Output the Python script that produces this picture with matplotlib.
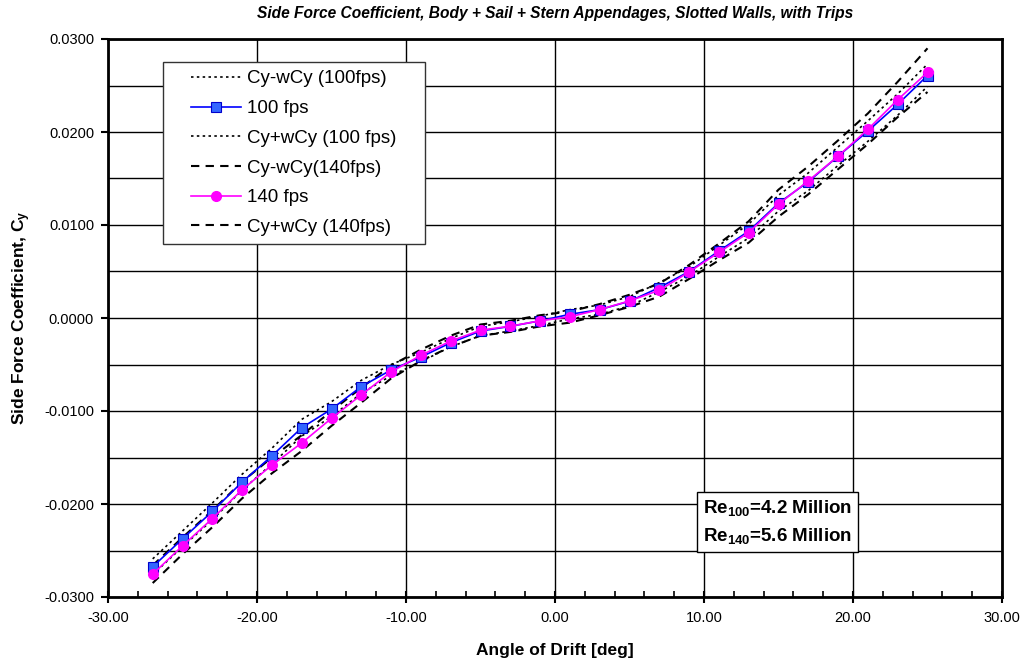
import matplotlib
matplotlib.use("Agg")
import matplotlib.pyplot as plt
from matplotlib.ticker import MultipleLocator, FormatStrFormatter
from matplotlib.path import Path

plt.rcParams['font.family'] = ['Liberation Sans', 'DejaVu Sans']
plt.rcParams['axes.unicode_minus'] = False
plt.rcParams['mathtext.fontset'] = 'custom'
plt.rcParams['mathtext.rm'] = 'Liberation Sans'
plt.rcParams['mathtext.bf'] = 'Liberation Sans:bold'
plt.rcParams['mathtext.it'] = 'Liberation Sans:italic'

drift = [-27, -25, -23, -21, -19, -17, -15, -13, -11, -9, -7, -5, -3, -1,
         1, 3, 5, 7, 9, 11, 13, 15, 17, 19, 21, 23, 25]

cy100 = [-0.02675, -0.02375, -0.0208, -0.01764, -0.01483, -0.0118, -0.0098, -0.00737,
         -0.00559, -0.0042, -0.00266, -0.0014, -0.0009, -0.0003, 0.0004, 0.0009,
         0.0018, 0.00327, 0.0050, 0.0072, 0.00934, 0.01234, 0.01465, 0.0174,
         0.0201, 0.02297, 0.02607]
cy100_lo = [-0.0276, -0.0246, -0.0217, -0.0185, -0.0157, -0.0127, -0.0106, -0.0081,
            -0.0062, -0.0047, -0.0031, -0.0019, -0.0014, -0.0008, -0.0001, 0.0004,
            0.0013, 0.0028, 0.0045, 0.0066, 0.0086, 0.0115, 0.0137, 0.0164,
            0.0190, 0.0218, 0.0249]
cy100_hi = [-0.0259, -0.0229, -0.0199, -0.0168, -0.0140, -0.0109, -0.0090, -0.0067,
            -0.0050, -0.0037, -0.0022, -0.0009, -0.0004, 0.0002, 0.0009, 0.0014,
            0.0023, 0.0038, 0.0055, 0.0078, 0.0101, 0.0132, 0.0156, 0.0184,
            0.0212, 0.0241, 0.0273]

cy140 = [-0.02754, -0.0245, -0.02157, -0.01847, -0.01582, -0.01344, -0.01079, -0.00826,
         -0.0058, -0.00401, -0.00248, -0.00131, -0.00088, -0.0003, 0.00013, 0.00091,
         0.00184, 0.00298, 0.00495, 0.00705, 0.00919, 0.01223, 0.01475, 0.0174,
         0.02029, 0.02347, 0.02642]
cy140_lo = [-0.0285, -0.0254, -0.0225, -0.0194, -0.0167, -0.0143, -0.0116, -0.0091,
            -0.0065, -0.0046, -0.0031, -0.0019, -0.0015, -0.0009, -0.0005, 0.0003,
            0.0012, 0.0023, 0.0042, 0.0062, 0.0081, 0.0109, 0.0133, 0.0160,
            0.0187, 0.0216, 0.0243]
cy140_hi = [-0.0266, -0.0236, -0.0207, -0.0176, -0.0150, -0.0126, -0.0100, -0.0075,
            -0.0051, -0.0034, -0.0019, -0.0007, -0.0003, 0.0003, 0.0007, 0.0015,
            0.0025, 0.0037, 0.0057, 0.0080, 0.0104, 0.0138, 0.0163, 0.0191,
            0.0220, 0.0254, 0.0290]

fig = plt.figure(figsize=(10.24, 6.62), dpi=100)
ax = fig.add_axes([108/1024, 1 - 597/662, 894/1024, 558/662])

ax.plot(drift, cy100_lo, color='black', linestyle=(0, (1.5, 2)), linewidth=1.2,
        label='Cy-wCy (100fps)', zorder=3)
ax.plot(drift, cy100, color='#0000FF', linewidth=1.2, marker='s', markersize=6.5,
        markerfacecolor='#3366FF', markeredgecolor='#0000CC', markeredgewidth=0.8,
        label='100 fps', zorder=4)
ax.plot(drift, cy100_hi, color='black', linestyle=(0, (1.5, 2)), linewidth=1.2,
        label='Cy+wCy (100 fps)', zorder=3)
ax.plot(drift, cy140_lo, color='black', linestyle=(0, (4, 3)), linewidth=1.5,
        label='Cy-wCy(140fps)', zorder=3)
ax.plot(drift, cy140, color='#FF00FF', linewidth=1.2, marker='o', markersize=7,
        markerfacecolor='#FF00FF', markeredgecolor='#FF00FF',
        label='140 fps', zorder=5)
ax.plot(drift, cy140_hi, color='black', linestyle=(0, (4, 3)), linewidth=1.5,
        label='Cy+wCy (140fps)', zorder=3)

ax.set_xlim(-30, 30)
ax.set_ylim(-0.03, 0.03)
ax.xaxis.set_major_locator(MultipleLocator(10))
ax.xaxis.set_minor_locator(MultipleLocator(2))
ax.yaxis.set_major_locator(MultipleLocator(0.01))
ax.yaxis.set_minor_locator(MultipleLocator(0.005))
ax.xaxis.set_major_formatter(FormatStrFormatter('%.2f'))
ax.yaxis.set_major_formatter(FormatStrFormatter('%.4f'))
ax.grid(True, which='major', color='black', linewidth=1.0)
ax.grid(True, which='minor', axis='y', color='black', linewidth=1.0)
ax.tick_params(axis='x', which='major', direction='inout', length=8, width=1.5, labelsize=10.5, pad=6)
ax.tick_params(axis='x', which='minor', direction='in', length=4, width=1.2)
ax.tick_params(axis='y', which='major', direction='out', length=5, width=1.5, labelsize=10.5, pad=5)
ax.tick_params(axis='y', which='minor', length=0)
for s in ax.spines.values():
    s.set_linewidth(2.0)
    s.set_color('black')

ax.set_xlabel('Angle of Drift [deg]', fontsize=12.5, fontweight='bold', labelpad=13)
ax.set_ylabel(r'Side Force Coefficient, C$_\mathbf{y}$', fontsize=12.5, fontweight='bold', labelpad=8)
ax.set_title('Side Force Coefficient, Body + Sail + Stern Appendages, Slotted Walls, with Trips',
             fontsize=11.2, fontweight='bold', fontstyle='italic', pad=15)


def wide_box(x0, y0, width, height, mutation_size):
    padx = 1.07 * mutation_size
    return Path([(x0 - padx, y0), (x0 + width + padx, y0), (x0 + width + padx, y0 + height),
                 (x0 - padx, y0 + height), (x0 - padx, y0)], closed=True)


leg = ax.legend(loc='upper left', bbox_to_anchor=(0.0839, 0.959), borderaxespad=0,
                fontsize=13.5, frameon=True, fancybox=False, framealpha=1,
                edgecolor='#333333', handlelength=2.65, handletextpad=0.3,
                labelspacing=0.67, borderpad=0.45)
leg.get_frame().set_linewidth(1.0)
leg.get_frame().set_boxstyle(wide_box)

ax.text(0.6655, 0.091, 'Re$_{\\mathbf{100}}$=4.2 Million\nRe$_{\\mathbf{140}}$=5.6 Million',
        transform=ax.transAxes, fontsize=13.5, fontweight='bold', linespacing=1.55,
        ha='left', va='bottom', zorder=6,
        bbox=dict(boxstyle='square,pad=0.3', facecolor='white', edgecolor='black', linewidth=1.0))

fig.savefig('out.png', dpi=100)
